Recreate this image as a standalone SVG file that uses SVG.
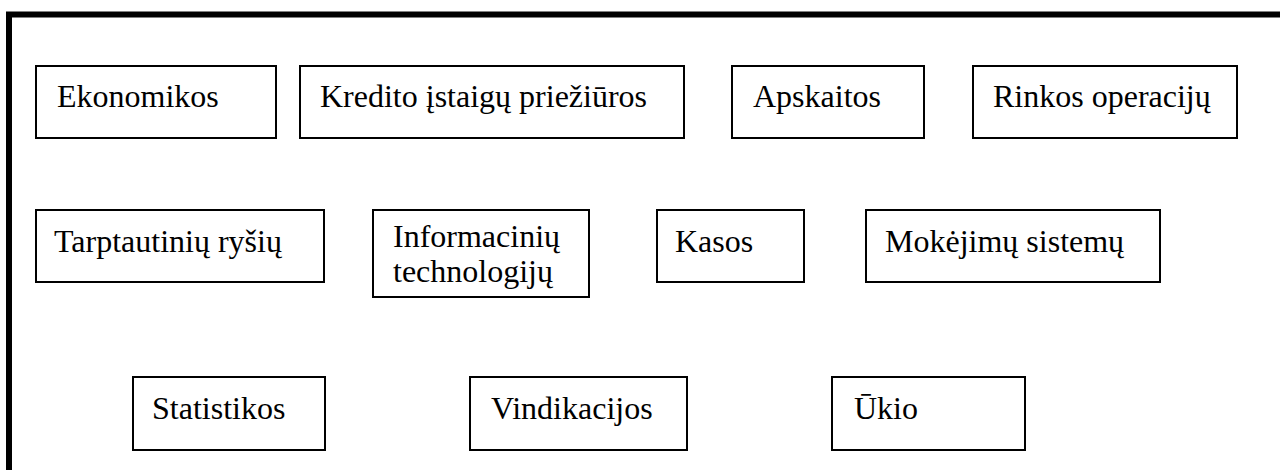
<svg xmlns="http://www.w3.org/2000/svg" width="1280" height="470" viewBox="0 0 1280 470">
<style>
.box{fill:#fff;stroke:#000;stroke-width:2}
.t{font-family:"Liberation Serif","Times New Roman",serif;font-size:32px;fill:#000}
.frame{fill:none;stroke:#000;stroke-width:6;stroke-linejoin:miter}
</style>
<rect width="1280" height="470" fill="#fff"/>
<path class="frame" d="M9,470 V14.5 H1280"/>
<g id="connectors"></g>
<g id="n-ekonomikos"><rect class="box" x="36" y="66" width="240" height="72"/><text class="t" x="57" y="107">Ekonomikos</text></g>
<g id="n-kredito"><rect class="box" x="300" y="66" width="384" height="72"/><text class="t" x="320" y="107">Kredito įstaigų priežiūros</text></g>
<g id="n-apskaitos"><rect class="box" x="732" y="66" width="192" height="72"/><text class="t" x="753" y="107">Apskaitos</text></g>
<g id="n-rinkos"><rect class="box" x="973" y="66" width="264" height="72"/><text class="t" x="993" y="107">Rinkos operacijų</text></g>
<g id="n-tarptautiniu"><rect class="box" x="36" y="210" width="288" height="72"/><text class="t" x="54" y="252">Tarptautinių ryšių</text></g>
<g id="n-informaciniu"><rect class="box" x="373" y="210" width="216" height="87"/><text class="t" x="393" y="247">Informacinių</text><text class="t" x="393" y="282">technologijų</text></g>
<g id="n-kasos"><rect class="box" x="657" y="210" width="147" height="72"/><text class="t" x="675" y="252">Kasos</text></g>
<g id="n-mokejimu"><rect class="box" x="866" y="210" width="294" height="72"/><text class="t" x="885" y="252">Mokėjimų sistemų</text></g>
<g id="n-statistikos"><rect class="box" x="133" y="377" width="192" height="73"/><text class="t" x="152" y="419">Statistikos</text></g>
<g id="n-vindikacijos"><rect class="box" x="470" y="377" width="217" height="73"/><text class="t" x="491" y="419">Vindikacijos</text></g>
<g id="n-ukio"><rect class="box" x="832" y="377" width="193" height="73"/><text class="t" x="854" y="419">Ūkio</text></g>
</svg>
